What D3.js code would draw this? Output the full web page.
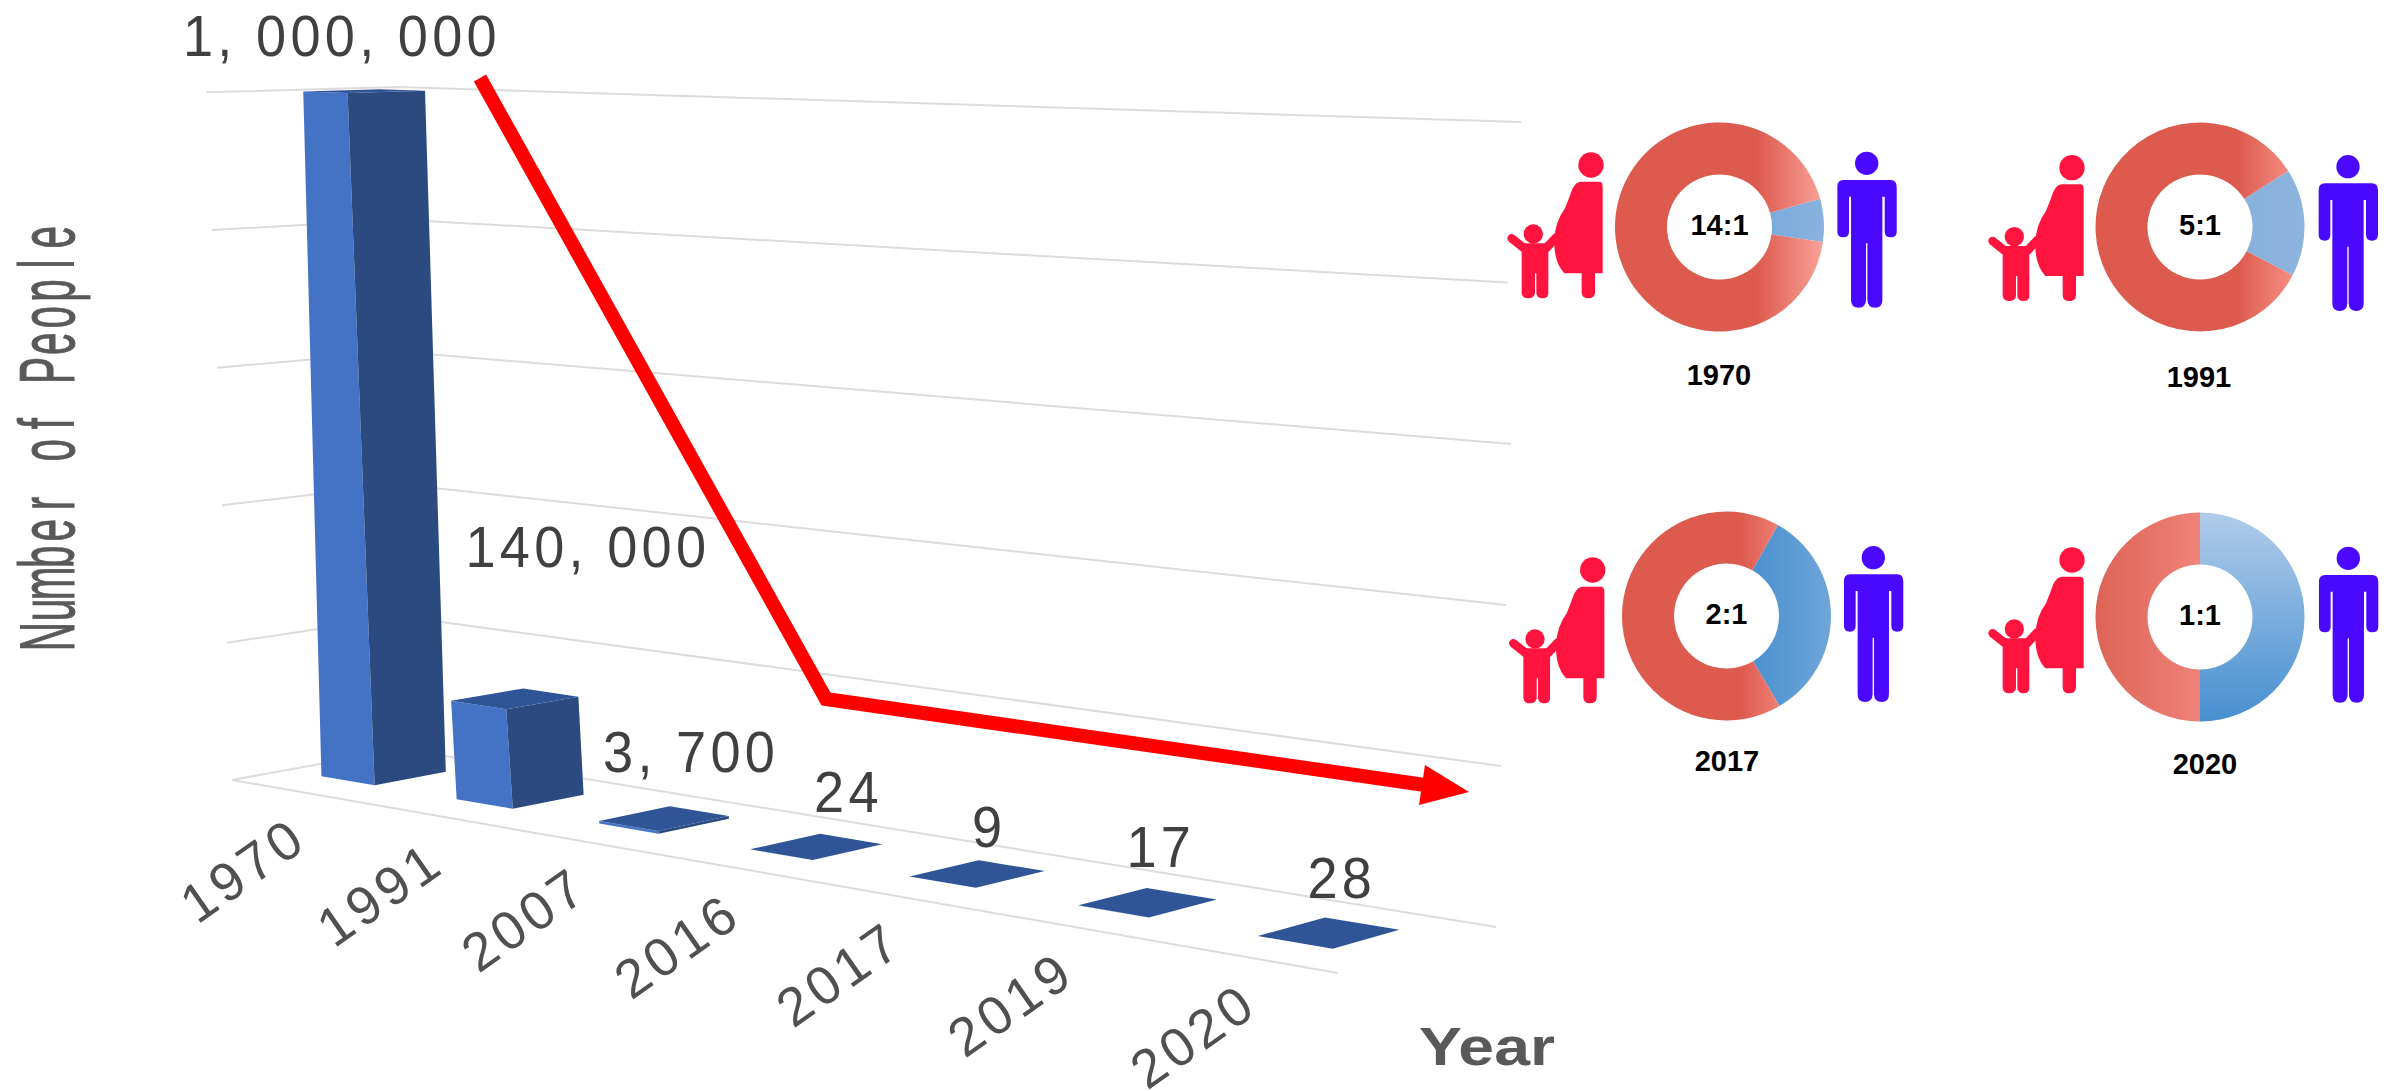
<!DOCTYPE html>
<html>
<head>
<meta charset="utf-8">
<script src="https://cdn.jsdelivr.net/npm/d3@7"></script>
<style>
	html, body { margin: 0; padding: 0; background: #fff; }
	svg { display: block; }
	text { font-family: "Liberation Sans", Arial, sans-serif; }
</style>
</head>
<body>
<div id="chart"></div>
<script>
// main chart data
const years = ['1970', '1991', '2007', '2016', '2017', '2019', '2020']
const people = [1000000, 140000, 3700, 24, 9, 17, 28]
const peopleLabels = ['1, 000, 000', '140, 000', '3, 700', '24', '9', '17', '28']
const valueTicks = [0, 200000, 400000, 600000, 800000, 1000000]

// sex ratio donuts
const ratioYears = ['1970', '1991', '2017', '2020']
const ratioLabels = ['14:1', '5:1', '2:1', '1:1']
const womenParts = [14, 5, 2, 1]
const menParts = [1, 1, 1, 1]

const width = 2397
const height = 1091

// corners of the 3d box as seen in the picture: left front, right front, right back, left back
const floorQuad = [[232, 780], [1338, 973], [1496, 927], [402, 749]]
const topQuad = [[217, 92], [1300, 131], [1521, 122], [398, 87]]

function homography(q) {
	const [[x0, y0], [x1, y1], [x2, y2], [x3, y3]] = q
	const dx1 = x1 - x2, dx2 = x3 - x2, sx = x0 - x1 + x2 - x3
	const dy1 = y1 - y2, dy2 = y3 - y2, sy = y0 - y1 + y2 - y3
	const det = dx1 * dy2 - dx2 * dy1
	const g = (sx * dy2 - dx2 * sy) / det
	const h = (dx1 * sy - sx * dy1) / det
	const a = x1 - x0 + g * x1, b = x3 - x0 + h * x3
	const d = y1 - y0 + g * y1, e = y3 - y0 + h * y3
	return (u, v) => {
		const w = g * u + h * v + 1
		return [(a * u + b * v + x0) / w, (d * u + e * v + y0) / w]
	}
}

const onFloor = homography(floorQuad)
const onTop = homography(topQuad)

// u along the years, v into the depth, k up the value axis (all 0..1)
function project(u, v, k) {
	const f = onFloor(u, v), t = onTop(u, v)
	return [f[0] + (t[0] - f[0]) * k, f[1] + (t[1] - f[1]) * k]
}

const uScale = d3.scaleBand().domain(years).range([0.0245, 0.9725]).paddingInner(0.6).paddingOuter(0.1)
const vRange = [0.31, 0.73]
const kScale = d3.scaleLinear().domain([0, 1000000]).range([0, 1])

const line = d3.line()
const quad = pts => line(pts) + 'Z'

const svg = d3.select('#chart')
	.append('svg')
	.attr('width', width)
	.attr('height', height)
	.attr('viewBox', `0 0 ${width} ${height}`)

const defs = svg.append('defs')

// gridlines: left wall piece then back wall piece
const gridColour = '#dcdcdc'
svg.append('g').selectAll('path')
	.data(valueTicks)
	.enter()
	.append('path')
		.attr('fill', 'none')
		.attr('stroke', gridColour)
		.attr('stroke-width', 2)
		.attr('d', d => {
			const k = kScale(d)
			// the left wall leans out a bit further than the bars do
			return line([project(0, -0.055 * k, k), project(0, 1, k), project(1, 1, k)])
		})

// front edge of the floor
svg.append('path')
	.attr('fill', 'none')
	.attr('stroke', gridColour)
	.attr('stroke-width', 2)
	.attr('d', line([project(0, 0, 0), project(1, 0, 0)]))

// bars
const bars = svg.append('g').selectAll('g')
	.data(years.map((y, i) => ({ year: y, value: people[i] })))
	.enter()
	.append('g')

function barCorners(d) {
	const u0 = uScale(d.year), u1 = u0 + uScale.bandwidth()
	const [v0, v1] = vRange
	return { u0, u1, v0, v1, k: kScale(d.value) }
}

bars.append('path')
	.attr('fill', '#4472c4')
	.attr('d', d => {
		const c = barCorners(d)
		return quad([project(c.u0, c.v0, 0), project(c.u1, c.v0, 0), project(c.u1, c.v0, c.k), project(c.u0, c.v0, c.k)])
	})

bars.append('path')
	.attr('fill', '#2a4a80')
	.attr('d', d => {
		const c = barCorners(d)
		return quad([project(c.u1, c.v0, 0), project(c.u1, c.v1, 0), project(c.u1, c.v1, c.k), project(c.u1, c.v0, c.k)])
	})

bars.append('path')
	.attr('fill', '#2f5597')
	.attr('d', d => {
		const c = barCorners(d)
		return quad([project(c.u0, c.v0, c.k), project(c.u1, c.v0, c.k), project(c.u1, c.v1, c.k), project(c.u0, c.v1, c.k)])
	})

// value labels, nudged off the top of each bar
const labelNudge = [[-22, -35], [73, -132], [27, -46], [32, -35], [12, -27], [13, -35], [13, -35]]

svg.append('g').selectAll('text')
	.data(peopleLabels)
	.enter()
	.append('text')
		.attr('text-anchor', 'middle')
		.attr('font-size', 57)
		.attr('letter-spacing', 4.5)
		.attr('fill', '#404040')
		.attr('transform', (d, i) => {
			const c = barCorners({ year: years[i], value: people[i] })
			const p = project((c.u0 + c.u1) / 2, (c.v0 + c.v1) / 2, c.k)
			return `translate(${p[0] + labelNudge[i][0]},${p[1] + labelNudge[i][1]}) scale(0.95,1)`
		})
		.text(d => d)

// year labels under the front edge
svg.append('g').selectAll('text')
	.data(years)
	.enter()
	.append('text')
		.attr('text-anchor', 'middle')
		.attr('dominant-baseline', 'central')
		.attr('font-size', 54)
		.attr('letter-spacing', 4.5)
		.attr('fill', '#505050')
		.attr('transform', d => {
			const p = project(uScale(d) + uScale.bandwidth() / 2, 0, 0)
			return `translate(${p[0] - 51},${p[1] + 79}) rotate(-35)`
		})
		.text(d => d)

// axis titles: the y title is set one glyph per even cell, squeezed sideways
const yTitle = 'Number of People'
const yCell = d3.scaleBand().domain(d3.range(yTitle.length)).range([0, 426])
svg.append('g')
	.attr('transform', 'translate(74,650) rotate(-90)')
	.selectAll('text')
	.data(yTitle.split(''))
	.enter()
	.append('text')
		.attr('text-anchor', 'middle')
		.attr('font-size', 78)
		.attr('fill', '#595959')
		.attr('stroke', '#595959')
		.attr('stroke-width', 1)
		.attr('transform', (d, i) => `translate(${yCell(i) + yCell.bandwidth() / 2},0) scale(0.52,1)`)
		.text(d => d)

svg.append('text')
	.attr('x', 1419)
	.attr('y', 1065)
	.attr('font-size', 53)
	.attr('font-weight', 'bold')
	.attr('textLength', 136)
	.attr('lengthAdjust', 'spacingAndGlyphs')
	.attr('fill', '#595959')
	.text('Year')

// red trend arrow
const arrowPath = [[480, 78], [826, 699], [1425, 785]]
svg.append('path')
	.attr('fill', 'none')
	.attr('stroke', '#ff0000')
	.attr('stroke-width', 14)
	.attr('stroke-linejoin', 'miter')
	.attr('d', line(arrowPath))
svg.append('path')
	.attr('fill', '#ff0000')
	.attr('d', quad([[1425, 765], [1469, 792], [1419, 805]]))

// donuts
const donutCentres = [[1719.5, 227], [2200, 227], [1726.5, 616], [2200, 617]]
const yearLabelPos = [[1719, 385], [2199, 387], [1727, 771], [2205, 774]]
const womanPos = [[1591, 165], [2072, 167.7], [1592.7, 570], [2072, 560]]
const manPos = [[1866.7, 163.3], [2348, 166.7], [1873.3, 557.7], [2348.3, 558.3]]
// the men's slice sits a little above due east
const sliceTilt = [3.7, 2.5, 0.5, 0]
// horizontal stops for the women's slice, then the men's slice
const womenStops = [
	[[0, '#dc5a4e'], [0.68, '#dc5a4e'], [1, '#f9a198']],
	[[0, '#dc5a4e'], [0.72, '#dc5a4e'], [1, '#f78e84']],
	[[0, '#dc5a4e'], [0.75, '#dc5a4e'], [1, '#f07f75']],
	[[0, '#dc6457'], [1, '#ef8278']]
]
const menStops = [
	[[0, '#7cabdb'], [1, '#8ab3de']],
	[[0, '#88b1dc'], [1, '#8cb4de']],
	[[0, '#4a90d0'], [1, '#6fa6d9']],
	[[0, '#b0ccea'], [1, '#478fd0']]
]

function addGradient(id, stops, vertical) {
	const g = defs.append('linearGradient')
		.attr('id', id)
		.attr('x1', 0).attr('y1', 0)
		.attr('x2', vertical ? 0 : 1).attr('y2', vertical ? 1 : 0)
	stops.forEach(s => g.append('stop').attr('offset', s[0]).attr('stop-color', s[1]))
}

const arc = d3.arc().innerRadius(52.5).outerRadius(104.5)

ratioYears.forEach((y, i) => {
	addGradient('women' + i, womenStops[i], false)
	addGradient('men' + i, menStops[i], i === 3)

	const share = menParts[i] / (menParts[i] + womenParts[i])
	const start = (90 - share * 180 - sliceTilt[i]) * Math.PI / 180
	const pie = d3.pie().sort(null).startAngle(start).endAngle(start + 2 * Math.PI)
	const slices = pie([menParts[i], womenParts[i]])

	const donut = svg.append('g').attr('transform', `translate(${donutCentres[i]})`)
	donut.selectAll('path')
		.data(slices)
		.enter()
		.append('path')
			.attr('fill', (d, j) => `url(#${j === 0 ? 'men' : 'women'}${i})`)
			.attr('d', arc)

	donut.append('text')
		.attr('text-anchor', 'middle')
		.attr('dominant-baseline', 'central')
		.attr('y', -2)
		.attr('font-size', 29)
		.attr('font-weight', 'bold')
		.attr('fill', '#000')
		.text(ratioLabels[i])

	svg.append('text')
		.attr('x', yearLabelPos[i][0])
		.attr('y', yearLabelPos[i][1])
		.attr('text-anchor', 'middle')
		.attr('font-size', 29)
		.attr('font-weight', 'bold')
		.attr('fill', '#000')
		.text(y)

	drawWoman(womanPos[i])
	drawMan(manPos[i])
})

// pictograms, drawn around the head in thirds of a pixel
function drawWoman(pos) {
	const g = svg.append('g')
		.attr('transform', `translate(${pos}) scale(${1 / 3})`)
		.attr('fill', '#ff1440')
	g.append('rect').attr('x', -250).attr('y', -40).attr('width', 300).attr('height', 445).attr('fill', '#fff')
	g.append('circle').attr('r', 38)
	g.append('path').attr('d', 'M-30,50 L25,50 Q35,50 35,65 V325 H-80 Q-112,290 -110,225 Q-108,170 -78,130 Q-66,100 -56,72 Q-45,50 -30,50Z')
	g.append('path').attr('d', 'M-28,320 V382 Q-28,400 -8,400 Q12,400 12,382 V320Z')
	g.append('circle').attr('cx', -173).attr('cy', 207).attr('r', 29)
	g.append('path').attr('d', 'M-205,235 H-135 Q-128,235 -128,245 V385 Q-128,400 -145,400 Q-163,400 -164,385 V325 H-168 V385 Q-170,400 -188,400 Q-206,400 -208,385 V245 Q-208,235 -205,235Z')
	g.append('path')
		.attr('d', 'M-238,220 L-200,250 M-135,250 L-105,218')
		.attr('fill', 'none')
		.attr('stroke', '#ff1440')
		.attr('stroke-width', 26)
		.attr('stroke-linecap', 'round')
}

function drawMan(pos) {
	const g = svg.append('g')
		.attr('transform', `translate(${pos}) scale(${1 / 3})`)
		.attr('fill', '#4b08ff')
	g.append('circle').attr('r', 35)
	g.append('path').attr('d', 'M-70,50 H72 Q90,50 90,72 V205 Q90,222 72,222 Q54,222 54,205 V100 H47 V410 Q47,433 25,433 Q3,433 2,410 V240 H-2 V410 Q-3,433 -25,433 Q-47,433 -47,410 V100 H-53 V205 Q-53,222 -70,222 Q-88,222 -88,205 V70 Q-88,50 -70,50Z')
}
</script>
</body>
</html>
